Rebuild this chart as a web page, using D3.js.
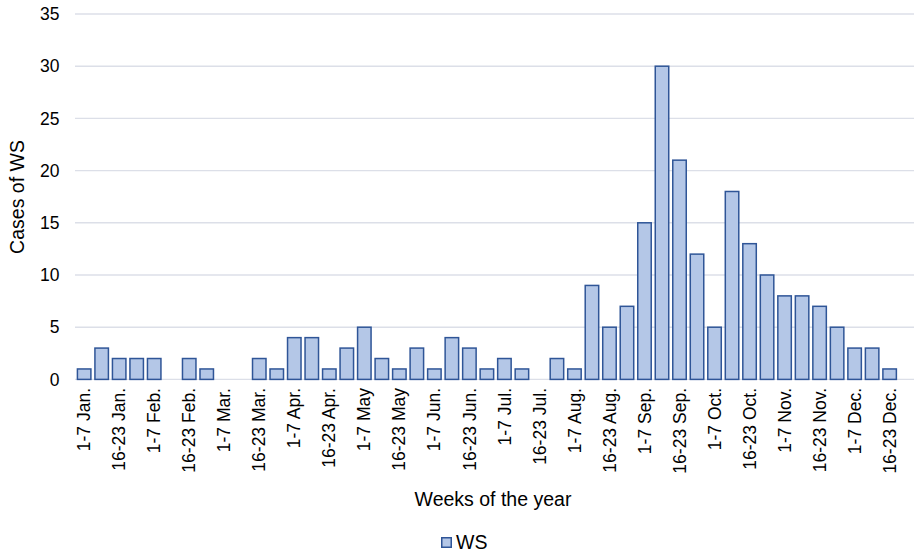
<!DOCTYPE html>
<html>
<head>
<meta charset="utf-8">
<script src="https://cdn.jsdelivr.net/npm/d3@7"></script>
<style>
  html, body { margin: 0; padding: 0; background: #ffffff; }
  svg { display: block; font-family: "Liberation Sans", Arial, sans-serif; }
</style>
</head>
<body>
<svg id="chart" width="914" height="555"></svg>
<script>
// Weekly periods of the year (four per month)
const weeks = [
  "1-7 Jan.", "8-15 Jan.", "16-23 Jan.", "24-31 Jan.",
  "1-7 Feb.", "8-15 Feb.", "16-23 Feb.", "24-28 Feb.",
  "1-7 Mar.", "8-15 Mar.", "16-23 Mar.", "24-31 Mar.",
  "1-7 Apr.", "8-15 Apr.", "16-23 Apr.", "24-30 Apr.",
  "1-7 May", "8-15 May", "16-23 May", "24-31 May",
  "1-7 Jun.", "8-15 Jun.", "16-23 Jun.", "24-30 Jun.",
  "1-7 Jul.", "8-15 Jul.", "16-23 Jul.", "24-31 Jul.",
  "1-7 Aug.", "8-15 Aug.", "16-23 Aug.", "24-31 Aug.",
  "1-7 Sep.", "8-15 Sep.", "16-23 Sep.", "24-30 Sep.",
  "1-7 Oct.", "8-15 Oct.", "16-23 Oct.", "24-31 Oct.",
  "1-7 Nov.", "8-15 Nov.", "16-23 Nov.", "24-30 Nov.",
  "1-7 Dec.", "8-15 Dec.", "16-23 Dec.", "24-31 Dec."
];

// Cases of WS per week
const wsCases = [
  1, 3, 2, 2,
  2, 0, 2, 1,
  0, 0, 2, 1,
  4, 4, 1, 3,
  5, 2, 1, 3,
  1, 4, 3, 1,
  2, 1, 0, 2,
  1, 9, 5, 7,
  15, 30, 21, 12,
  5, 18, 13, 10,
  8, 8, 7, 5,
  3, 3, 1, 0
];

// Every other week is labelled on the axis
const labelledWeeks = [
  "1-7 Jan.", "16-23 Jan.", "1-7 Feb.", "16-23 Feb.", "1-7 Mar.", "16-23 Mar.",
  "1-7 Apr.", "16-23 Apr.", "1-7 May", "16-23 May", "1-7 Jun.", "16-23 Jun.",
  "1-7 Jul.", "16-23 Jul.", "1-7 Aug.", "16-23 Aug.", "1-7 Sep.", "16-23 Sep.",
  "1-7 Oct.", "16-23 Oct.", "1-7 Nov.", "16-23 Nov.", "1-7 Dec.", "16-23 Dec."
];

const yTicks = [0, 5, 10, 15, 20, 25, 30, 35];
const seriesName = "WS";

const fillColor = "#b4c7e7";
const strokeColor = "#2f5597";
const gridColor = "#dcdfe8";

const svg = d3.select("#chart");

const x = d3.scaleBand()
  .domain(weeks)
  .range([75.4, 915.9])
  .paddingInner(0.23)
  .paddingOuter(0.115);

const y = d3.scaleLinear()
  .domain([0, 35])
  .range([379.4, 14]);

// Horizontal gridlines
svg.append("g")
  .selectAll("line")
  .data(yTicks)
  .join("line")
  .attr("x1", 75)
  .attr("x2", 914)
  .attr("y1", d => y(d))
  .attr("y2", d => y(d))
  .attr("stroke", gridColor)
  .attr("stroke-width", 1.4);

// Y axis tick labels
const yAxis = d3.axisLeft(y).tickValues(yTicks).tickSize(0).tickPadding(0);
const yg = svg.append("g")
  .attr("transform", "translate(59.5,0)")
  .call(yAxis);
yg.select(".domain").remove();
yg.selectAll("text")
  .attr("font-size", "17.5px")
  .attr("font-family", "Liberation Sans, Arial, sans-serif")
  .attr("fill", "#000");

// Bars
svg.append("g")
  .selectAll("rect")
  .data(weeks.map((w, i) => ({ week: w, value: wsCases[i] })).filter(d => d.value > 0))
  .join("rect")
  .attr("x", d => x(d.week))
  .attr("y", d => y(d.value))
  .attr("width", x.bandwidth())
  .attr("height", d => y(0) - y(d.value))
  .attr("fill", fillColor)
  .attr("stroke", strokeColor)
  .attr("stroke-width", 1.5);

// X axis tick labels, rotated
const xAxis = d3.axisBottom(x).tickValues(labelledWeeks).tickSize(0).tickPadding(0);
const xg = svg.append("g")
  .attr("transform", "translate(0,388)")
  .call(xAxis);
xg.select(".domain").remove();
xg.selectAll("text")
  .attr("font-size", "17.5px")
  .attr("font-family", "Liberation Sans, Arial, sans-serif")
  .attr("fill", "#000")
  .attr("text-anchor", "end")
  .attr("transform", "rotate(-90)")
  .attr("x", 0)
  .attr("y", 0)
  .attr("dy", "0.35em");

// Axis titles
svg.append("text")
  .attr("x", 493)
  .attr("y", 506)
  .attr("text-anchor", "middle")
  .attr("font-size", "19.5px")
  .attr("fill", "#000")
  .text("Weeks of the year");

svg.append("text")
  .attr("transform", "translate(17,197) rotate(-90)")
  .attr("text-anchor", "middle")
  .attr("dy", "0.35em")
  .attr("font-size", "19.5px")
  .attr("fill", "#000")
  .text("Cases of WS");

// Legend
const legend = svg.append("g").attr("transform", "translate(441,537)");
legend.append("rect")
  .attr("x", 0.75)
  .attr("y", 0.75)
  .attr("width", 9.5)
  .attr("height", 9.5)
  .attr("fill", fillColor)
  .attr("stroke", strokeColor)
  .attr("stroke-width", 1.5);
legend.append("text")
  .attr("x", 15)
  .attr("y", 12)
  .attr("font-size", "19.5px")
  .attr("fill", "#000")
  .text(seriesName);
</script>
</body>
</html>
